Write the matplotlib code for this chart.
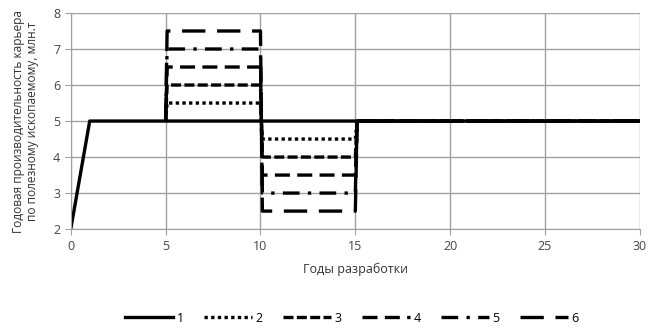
"""Annual quarry output scenarios over 30 years of development."""

import matplotlib.pyplot as plt

plt.rcParams["font.family"] = ["Open Sans", "DejaVu Sans"]

years_base = [0, 1, 30]
output_base = [2, 5, 5]

years_var = [5, 5.08, 10, 10.1, 15, 15.1, 30]
labels = ["1", "2", "3", "4", "5", "6"]
peak = [5.5, 6.0, 6.5, 7.0, 7.5]
dip = [4.5, 4.0, 3.5, 3.0, 2.5]

styles = [
    (0, (1, 1)),
    (0, (3, 1)),
    (0, (4.5, 2.2)),
    (0, (5, 2.5, 1, 2.5)),
    (0, (7, 3.5)),
]


def main() -> None:
    figure = plt.figure(figsize=(6.49, 3.33), dpi=100)
    axis = figure.add_axes([0.109, 0.312, 0.877, 0.649])

    axis.plot(years_base, output_base, color="black", lw=2.4, label=labels[0])
    for hi, lo, ls, lab in zip(peak, dip, styles, labels[1:]):
        values = [5, hi, hi, lo, lo, 5, 5]
        axis.plot(years_var, values, color="black", lw=2.4, ls=ls, label=lab)

    axis.set_xlim(0, 30)
    axis.set_ylim(2, 8)
    axis.set_xticks(range(0, 31, 5))
    axis.set_yticks(range(2, 9))
    axis.grid(True, color="#a0a0a0", lw=1)
    axis.set_axisbelow(True)
    for side in ("top", "right"):
        axis.spines[side].set_visible(False)
    for side in ("left", "bottom"):
        axis.spines[side].set_color("#a0a0a0")
    axis.tick_params(colors="#a0a0a0", labelcolor="#444444", labelsize=9, length=4)
    axis.set_xlabel("Годы разработки", fontsize=9, color="#333333", labelpad=7)
    axis.set_ylabel(
        "Годовая производительность карьера\nпо полезному ископаемому, млн.т",
        fontsize=8.6,
        color="#333333",
        linespacing=1.15,
        labelpad=10,
    )
    axis.legend(
        loc="upper center",
        bbox_to_anchor=(0.494, -0.33),
        ncol=6,
        frameon=False,
        fontsize=9,
        handlelength=3.8,
        columnspacing=1.65,
        handletextpad=0.3,
    )
    figure.savefig("out.png", dpi=100)
    plt.close(figure)


if __name__ == "__main__":
    main()
